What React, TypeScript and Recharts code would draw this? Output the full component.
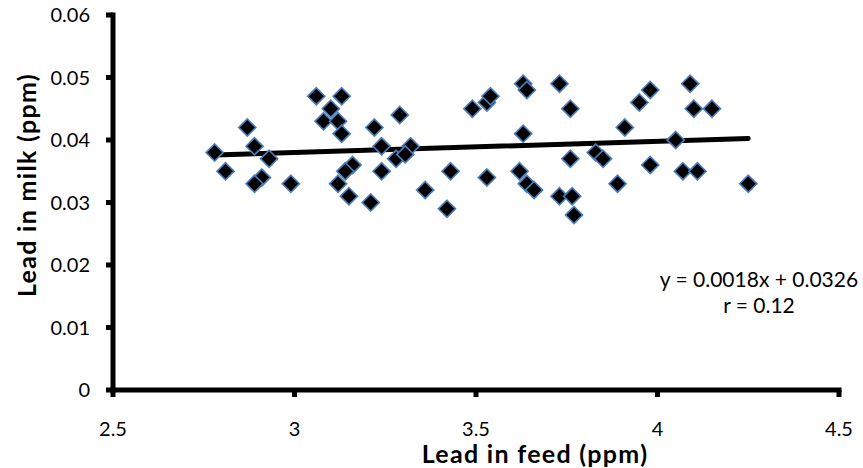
import React from 'react';
import { ScatterChart, Scatter, XAxis, YAxis, ReferenceLine, Customized } from 'recharts';

const feedLead = [
  2.78, 2.81, 2.87, 2.89, 2.93, 2.91, 2.89, 2.99, 3.06, 3.13,
  3.10, 3.08, 3.12, 3.13, 3.22, 3.24, 3.16, 3.14, 3.12, 3.15,
  3.21, 3.24, 3.29, 3.28, 3.32, 3.305, 3.36, 3.42, 3.43, 3.49,
  3.53, 3.54, 3.53, 3.63, 3.64, 3.63, 3.62, 3.64, 3.66, 3.73,
  3.76, 3.76, 3.73, 3.765, 3.77, 3.83, 3.85, 3.89, 3.91, 3.95,
  3.98, 3.98, 4.05, 4.07, 4.11, 4.09, 4.10, 4.15, 4.25,
];
const milkLead = [
  0.038, 0.035, 0.042, 0.039, 0.037, 0.034, 0.033, 0.033, 0.047, 0.047,
  0.045, 0.043, 0.043, 0.041, 0.042, 0.039, 0.036, 0.035, 0.033, 0.031,
  0.030, 0.035, 0.044, 0.037, 0.039, 0.0377, 0.032, 0.029, 0.035, 0.045,
  0.046, 0.047, 0.034, 0.049, 0.048, 0.041, 0.035, 0.033, 0.032, 0.049,
  0.045, 0.037, 0.031, 0.031, 0.028, 0.038, 0.037, 0.033, 0.042, 0.046,
  0.048, 0.036, 0.040, 0.035, 0.035, 0.049, 0.045, 0.045, 0.033,
];
const xTicks = [2.5, 3, 3.5, 4, 4.5];
const yTicks = [0, 0.01, 0.02, 0.03, 0.04, 0.05, 0.06];
const slope = 0.0018;
const intercept = 0.0326;
const equationText = 'y = 0.0018x + 0.0326';
const rText = 'r = 0.12';
const xTitle = 'Lead in feed (ppm)';
const yTitle = 'Lead in milk (ppm)';

const data = feedLead.map((x, i) => ({ x, y: milkLead[i] }));
const xMin = Math.min(...feedLead);
const xMax = Math.max(...feedLead);
const trend = [
  { x: xMin, y: slope * xMin + intercept },
  { x: xMax, y: slope * xMax + intercept },
];

const FONT = 'Lato, "Open Sans", sans-serif';
const AXIS_W = 5;
const TICK_SIZE = 7;
const X_TICK_MARGIN = 25;
const Y_TICK_MARGIN = 16;

const Diamond = (props: any) => {
  const { cx, cy } = props;
  if (cx == null || cy == null) return null;
  const r = 8.5;
  return (
    <polygon
      points={`${cx},${cy - r} ${cx + r},${cy} ${cx},${cy + r} ${cx - r},${cy}`}
      fill="#000"
      stroke="#4a7ebb"
      strokeWidth={1.7}
    />
  );
};

const XTick = (props: any) => {
  const { x, y, payload } = props;
  const axisY = y - X_TICK_MARGIN - TICK_SIZE;
  return (
    <g>
      <line x1={x} y1={axisY} x2={x} y2={axisY + TICK_SIZE} stroke="#000" strokeWidth={AXIS_W} />
      <text x={x} y={y} dy="0.71em" textAnchor="middle" fontSize={20} fontFamily={FONT} fill="#000">
        {payload.value}
      </text>
    </g>
  );
};

const YTick = (props: any) => {
  const { x, y, payload } = props;
  const axisX = x + Y_TICK_MARGIN + TICK_SIZE;
  return (
    <g>
      <line x1={axisX - TICK_SIZE} y1={y} x2={axisX} y2={y} stroke="#000" strokeWidth={AXIS_W} />
      <text x={x} y={y} dy="0.355em" textAnchor="end" fontSize={20} fontFamily={FONT} fill="#000">
        {payload.value}
      </text>
    </g>
  );
};

const Overlay = () => (
  <g fontFamily={FONT}>
    <text x={759} y={287} textAnchor="middle" fontSize={21} fill="#000">{equationText}</text>
    <text x={759} y={313} textAnchor="middle" fontSize={21} fill="#000">{rText}</text>
    <text x={535} y={463} textAnchor="middle" fontSize={25} letterSpacing={1.3} fontWeight="bold" fill="#000">{xTitle}</text>
    <text x={36} y={185} textAnchor="middle" fontSize={25} letterSpacing={1.3} fontWeight="bold" fill="#000" transform="rotate(-90 36 185)">{yTitle}</text>
  </g>
);

export default function App() {
  return (
    <div style={{ position: 'absolute', left: 0, top: 0, background: '#fff' }}>
      <ScatterChart width={863} height={468} margin={{ top: 15, right: 24, bottom: 28, left: 0 }}>
        <XAxis
          type="number"
          dataKey="x"
          domain={[2.5, 4.5]}
          ticks={xTicks}
          height={50}
          stroke="#000"
          strokeWidth={AXIS_W}
          axisLine={{ stroke: '#000', strokeWidth: AXIS_W, strokeLinecap: 'square' }}
          tickLine={{ stroke: 'none' }}
          tickSize={TICK_SIZE}
          tickMargin={X_TICK_MARGIN}
          tick={<XTick />}
        />
        <YAxis
          type="number"
          dataKey="y"
          domain={[0, 0.06]}
          ticks={yTicks}
          width={113}
          stroke="#000"
          strokeWidth={AXIS_W}
          axisLine={{ stroke: '#000', strokeWidth: AXIS_W, strokeLinecap: 'square' }}
          tickLine={{ stroke: 'none' }}
          tickSize={TICK_SIZE}
          tickMargin={Y_TICK_MARGIN}
          tick={<YTick />}
        />
        <Scatter data={data} shape={Diamond} isAnimationActive={false} />
        <ReferenceLine segment={trend} stroke="#000" strokeWidth={5} strokeLinecap="round" />
        <Customized component={Overlay} />
      </ScatterChart>
    </div>
  );
}
